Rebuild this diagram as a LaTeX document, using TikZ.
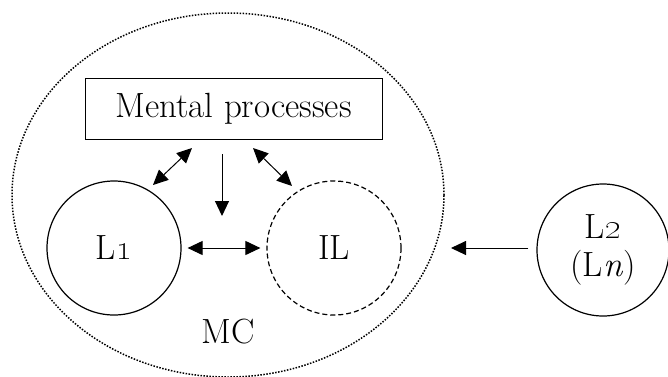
\documentclass[tikz,border=0pt]{standalone}
\usetikzlibrary{arrows.meta,shapes.geometric}
\begin{document}
\begin{tikzpicture}[x=1pt,y=-1pt,
  every node/.style={font=\fontsize{35}{38}\selectfont},
  lang/.style={circle,draw,line width=1.2pt,minimum size=134pt,inner sep=0pt},
  arr/.style={line width=1pt,-{Triangle[length=15pt,width=14pt]}},
  darr/.style={line width=1pt,{Triangle[length=15pt,width=14pt]}-{Triangle[length=15pt,width=14pt]}}]
\useasboundingbox (0,0) rectangle (668,376);
\node[ellipse,draw,line width=1.5pt,dash pattern=on 1.5pt off 1.5pt,minimum width=432pt,minimum height=364pt,inner sep=0pt] (mc) at (228,195) {};
\node[draw,line width=1pt,minimum width=297pt,minimum height=61pt,inner sep=0pt] (mp) at (233.5,108.5) {Mental processes};
\node[lang] (l1) at (114,248) {L\oldstylenums{1}};
\node[lang,dashed,dash pattern=on 5pt off 3pt] (il) at (334,248) {IL};
\node[lang,minimum size=132pt,align=center] (l2) at (603,250) {L\oldstylenums{2}\\(L\textit{n})};
\node (mclabel) at (228,332) {MC};
\coordinate (a1) at (192,148);
\coordinate (b1) at (153,185);
\coordinate (a2) at (253,148);
\coordinate (b2) at (292,186);
\coordinate (a3) at (222,154);
\coordinate (b3) at (222,216);
\coordinate (tip) at (451,248);
\draw[darr] (a1) -- (b1);
\draw[darr] (a2) -- (b2);
\draw[arr] (a3) -- (b3);
\draw[darr,shorten <=6pt,shorten >=6pt] (l1) -- (il);
\draw[arr,shorten <=8pt] (l2.west |- tip) -- (tip);
\end{tikzpicture}
\end{document}
